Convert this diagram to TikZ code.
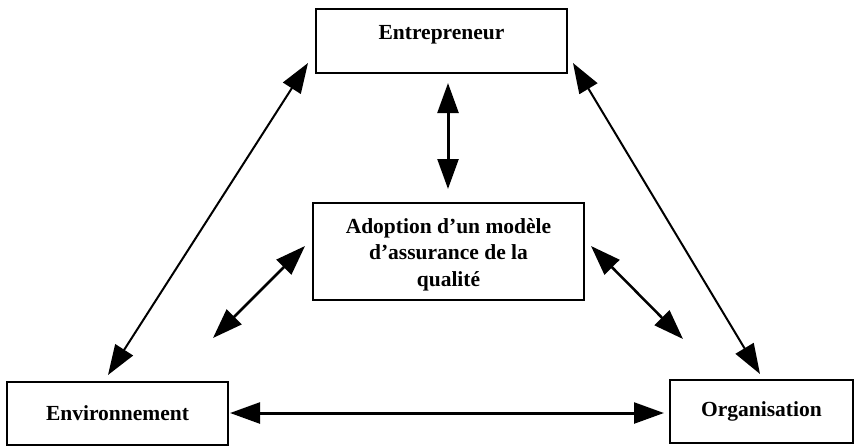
\documentclass[tikz,border=0pt]{standalone}
\usepackage{fontspec}
\setmainfont{Liberation Serif}
\usetikzlibrary{arrows.meta}

\begin{document}
\begin{tikzpicture}[x=0.6pt, y=-0.6pt,
        box/.style={draw, line width=1.5pt, inner sep=0pt, align=center,
            font=\fontsize{12.9}{16.8}\selectfont\bfseries},
        lbl/.style={inner sep=0pt, align=center, font=\fontsize{12.9}{16}\selectfont\bfseries},
        biarrow/.style={{Triangle[length=18pt, width=12.5pt]}-{Triangle[length=18pt, width=12.5pt]}}
    ]
        \useasboundingbox (0, 0) rectangle (855, 445);
        % boxes
        \node[box, minimum width=251*0.6pt, minimum height=64*0.6pt] (ent) at (441.5, 41) {};
        \node[lbl, anchor=base] (entText) at (441.5, 39) {Entrepreneur};
        \node[box, minimum width=271*0.6pt, minimum height=97*0.6pt] (adopt) at (448.5, 251.5) {};
        \node[lbl] (adoptText) at (448.5, 254.5) {Adoption d’un modèle\\d’assurance de la\\qualité};
        \node[box, minimum width=221*0.6pt, minimum height=63*0.6pt] (env) at (117.5, 413.5) {Environnement};
        \node[box, minimum width=183*0.6pt, minimum height=63*0.6pt] (org) at (761.5, 411.5) {Organisation};
        % arrow ends
        \coordinate (entS) at (448, 83);
        \coordinate (adoptN) at (448, 189);
        \coordinate (entW) at (308, 63);
        \coordinate (envN) at (108, 375);
        \coordinate (entE) at (573, 63);
        \coordinate (orgN) at (760, 374);
        \coordinate (envE) at (230, 413);
        \coordinate (orgW) at (664, 413);
        \coordinate (adoptW) at (305, 246);
        \coordinate (envNE) at (213, 338);
        \coordinate (adoptE) at (591, 246);
        \coordinate (orgNW) at (683, 339);
        % arrows
        \draw[biarrow, line width=1.8pt] (entS) -- (adoptN);
        \draw[biarrow, line width=1.2pt] (entW) -- (envN);
        \draw[biarrow, line width=1.2pt] (entE) -- (orgN);
        \draw[biarrow, line width=1.8pt] (envE) -- (orgW);
        \draw[biarrow, line width=1.5pt] (adoptW) -- (envNE);
        \draw[biarrow, line width=1.5pt] (adoptE) -- (orgNW);
    \end{tikzpicture}
\end{document}
